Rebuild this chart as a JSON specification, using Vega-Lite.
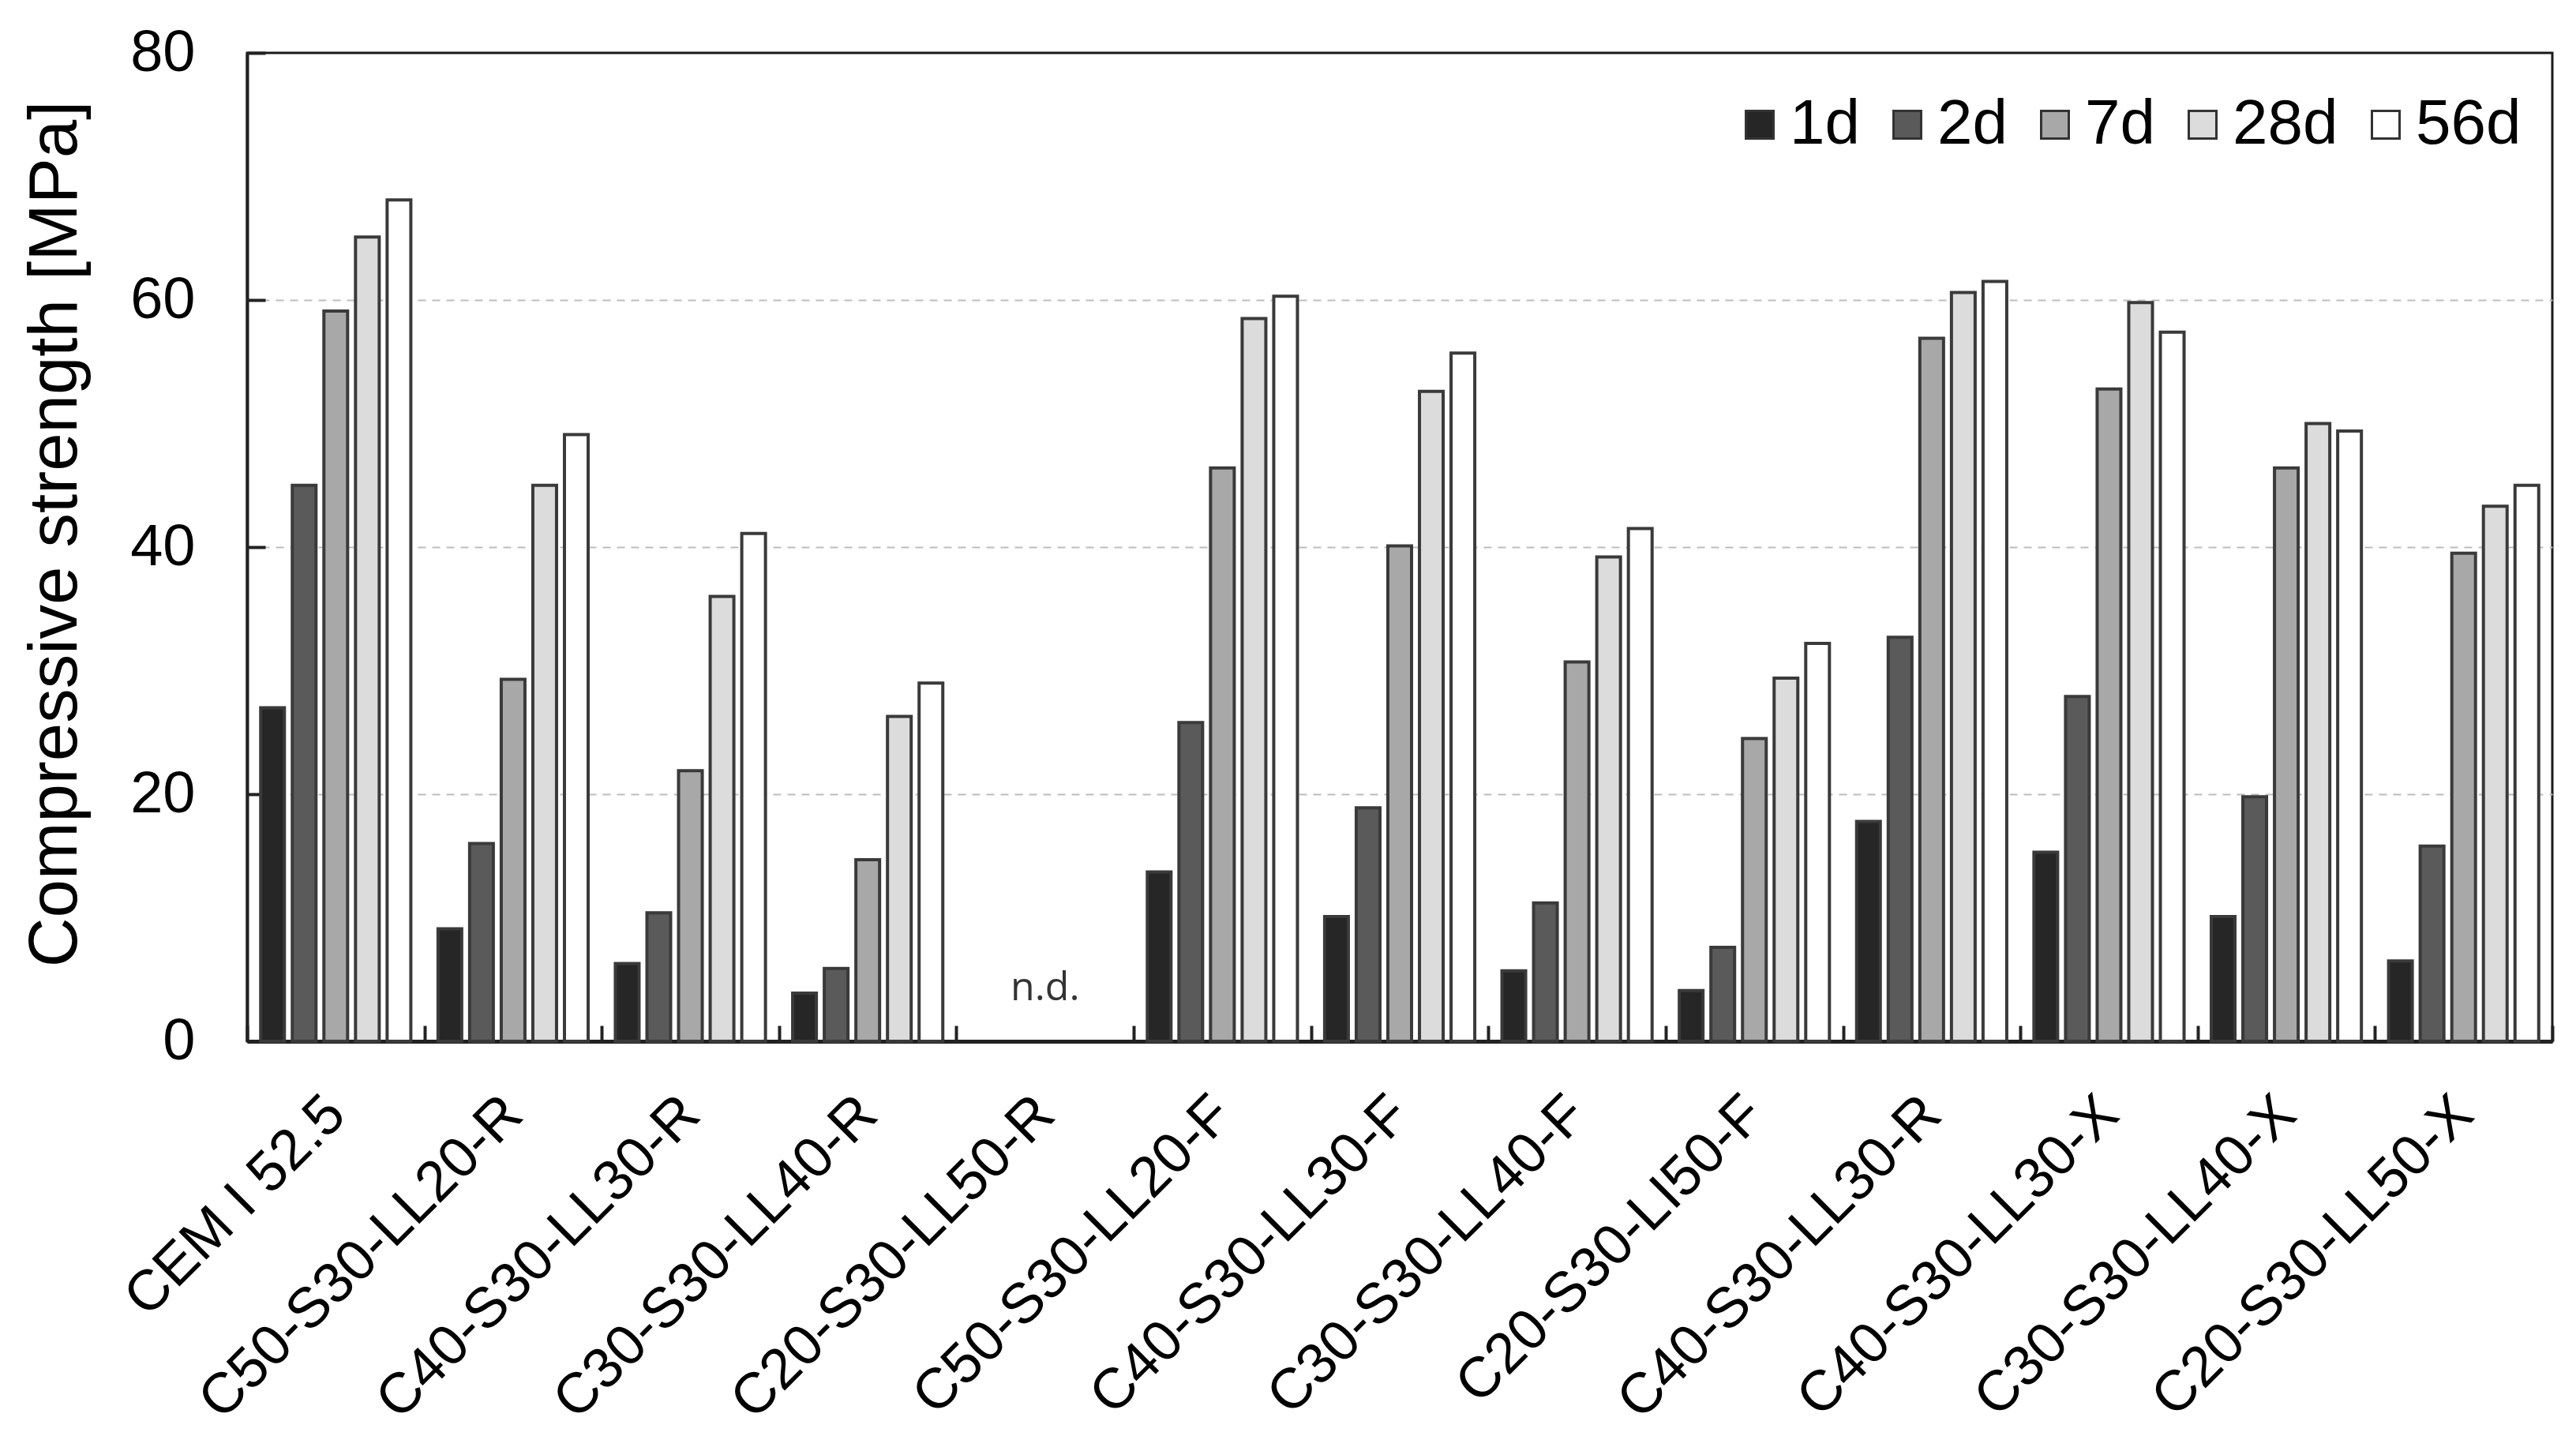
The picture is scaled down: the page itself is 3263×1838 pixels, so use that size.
{
  "$schema": "https://vega.github.io/schema/vega-lite/v6.json",
  "width": 2920,
  "height": 1252,
  "autosize": {"type": "none"},
  "padding": {"left": 313, "top": 67, "right": 30, "bottom": 519},
  "background": "white",
  "config": {
    "font": "Liberation Sans",
    "view": {"stroke": "#1a1a1a", "strokeWidth": 3},
    "axis": {"labelColor": "#000", "titleColor": "#000", "labelFont": "Liberation Sans", "titleFont": "Liberation Sans"}
  },
  "datasets": {
    "bars": [
      {"mix": "CEM I 52.5", "age": "1d", "strength": 27.0},
      {"mix": "CEM I 52.5", "age": "2d", "strength": 45.0},
      {"mix": "CEM I 52.5", "age": "7d", "strength": 59.1},
      {"mix": "CEM I 52.5", "age": "28d", "strength": 65.1},
      {"mix": "CEM I 52.5", "age": "56d", "strength": 68.1},
      {"mix": "C50-S30-LL20-R", "age": "1d", "strength": 9.1},
      {"mix": "C50-S30-LL20-R", "age": "2d", "strength": 16.0},
      {"mix": "C50-S30-LL20-R", "age": "7d", "strength": 29.3},
      {"mix": "C50-S30-LL20-R", "age": "28d", "strength": 45.0},
      {"mix": "C50-S30-LL20-R", "age": "56d", "strength": 49.1},
      {"mix": "C40-S30-LL30-R", "age": "1d", "strength": 6.3},
      {"mix": "C40-S30-LL30-R", "age": "2d", "strength": 10.4},
      {"mix": "C40-S30-LL30-R", "age": "7d", "strength": 21.9},
      {"mix": "C40-S30-LL30-R", "age": "28d", "strength": 36.0},
      {"mix": "C40-S30-LL30-R", "age": "56d", "strength": 41.1},
      {"mix": "C30-S30-LL40-R", "age": "1d", "strength": 3.9},
      {"mix": "C30-S30-LL40-R", "age": "2d", "strength": 5.9},
      {"mix": "C30-S30-LL40-R", "age": "7d", "strength": 14.7},
      {"mix": "C30-S30-LL40-R", "age": "28d", "strength": 26.3},
      {"mix": "C30-S30-LL40-R", "age": "56d", "strength": 29.0},
      {"mix": "C50-S30-LL20-F", "age": "1d", "strength": 13.7},
      {"mix": "C50-S30-LL20-F", "age": "2d", "strength": 25.8},
      {"mix": "C50-S30-LL20-F", "age": "7d", "strength": 46.4},
      {"mix": "C50-S30-LL20-F", "age": "28d", "strength": 58.5},
      {"mix": "C50-S30-LL20-F", "age": "56d", "strength": 60.3},
      {"mix": "C40-S30-LL30-F", "age": "1d", "strength": 10.1},
      {"mix": "C40-S30-LL30-F", "age": "2d", "strength": 18.9},
      {"mix": "C40-S30-LL30-F", "age": "7d", "strength": 40.1},
      {"mix": "C40-S30-LL30-F", "age": "28d", "strength": 52.6},
      {"mix": "C40-S30-LL30-F", "age": "56d", "strength": 55.7},
      {"mix": "C30-S30-LL40-F", "age": "1d", "strength": 5.7},
      {"mix": "C30-S30-LL40-F", "age": "2d", "strength": 11.2},
      {"mix": "C30-S30-LL40-F", "age": "7d", "strength": 30.7},
      {"mix": "C30-S30-LL40-F", "age": "28d", "strength": 39.2},
      {"mix": "C30-S30-LL40-F", "age": "56d", "strength": 41.5},
      {"mix": "C20-S30-LI50-F", "age": "1d", "strength": 4.1},
      {"mix": "C20-S30-LI50-F", "age": "2d", "strength": 7.6},
      {"mix": "C20-S30-LI50-F", "age": "7d", "strength": 24.5},
      {"mix": "C20-S30-LI50-F", "age": "28d", "strength": 29.4},
      {"mix": "C20-S30-LI50-F", "age": "56d", "strength": 32.2},
      {"mix": "C40-S30-LL30-R ", "age": "1d", "strength": 17.8},
      {"mix": "C40-S30-LL30-R ", "age": "2d", "strength": 32.7},
      {"mix": "C40-S30-LL30-R ", "age": "7d", "strength": 56.9},
      {"mix": "C40-S30-LL30-R ", "age": "28d", "strength": 60.6},
      {"mix": "C40-S30-LL30-R ", "age": "56d", "strength": 61.5},
      {"mix": "C40-S30-LL30-X", "age": "1d", "strength": 15.3},
      {"mix": "C40-S30-LL30-X", "age": "2d", "strength": 27.9},
      {"mix": "C40-S30-LL30-X", "age": "7d", "strength": 52.8},
      {"mix": "C40-S30-LL30-X", "age": "28d", "strength": 59.8},
      {"mix": "C40-S30-LL30-X", "age": "56d", "strength": 57.4},
      {"mix": "C30-S30-LL40-X", "age": "1d", "strength": 10.1},
      {"mix": "C30-S30-LL40-X", "age": "2d", "strength": 19.8},
      {"mix": "C30-S30-LL40-X", "age": "7d", "strength": 46.4},
      {"mix": "C30-S30-LL40-X", "age": "28d", "strength": 50.0},
      {"mix": "C30-S30-LL40-X", "age": "56d", "strength": 49.4},
      {"mix": "C20-S30-LL50-X", "age": "1d", "strength": 6.5},
      {"mix": "C20-S30-LL50-X", "age": "2d", "strength": 15.8},
      {"mix": "C20-S30-LL50-X", "age": "7d", "strength": 39.5},
      {"mix": "C20-S30-LL50-X", "age": "28d", "strength": 43.3},
      {"mix": "C20-S30-LL50-X", "age": "56d", "strength": 45.0}
    ],
    "notes": [
      {"mix": "C20-S30-LL50-R", "strength": 4.3, "label": "n.d."}
    ]
  },
  "layer": [
    {
      "data": {"name": "bars"},
      "mark": {"type": "bar", "stroke": "#3a3a3a", "strokeWidth": 4},
      "encoding": {
        "x": {
          "field": "mix",
          "type": "nominal",
          "scale": {
            "domain": ["CEM I 52.5", "C50-S30-LL20-R", "C40-S30-LL30-R", "C30-S30-LL40-R", "C20-S30-LL50-R", "C50-S30-LL20-F", "C40-S30-LL30-F", "C30-S30-LL40-F", "C20-S30-LI50-F", "C40-S30-LL30-R ", "C40-S30-LL30-X", "C30-S30-LL40-X", "C20-S30-LL50-X"],
            "paddingInner": 0,
            "paddingOuter": 0
          },
          "axis": {
            "title": null,
            "labelAngle": -45,
            "labelFontSize": 72,
            "labelPadding": 76,
            "labelOffset": -25,
            "labelLimit": 2000,
            "labelExpr": "trim(datum.label)",
            "tickBand": "extent",
            "tickSize": -20,
            "tickWidth": 4,
            "tickColor": "#222",
            "domainColor": "#222",
            "domainWidth": 5,
            "grid": false
          }
        },
        "xOffset": {
          "field": "age",
          "type": "nominal",
          "sort": ["1d", "2d", "7d", "28d", "56d"],
          "scale": {"paddingInner": 0.25, "paddingOuter": 0.43}
        },
        "y": {
          "field": "strength",
          "type": "quantitative",
          "scale": {"domain": [0, 80]},
          "axis": {
            "title": "Compressive strength [MPa]",
            "titleFontSize": 87,
            "titleFontWeight": "normal",
            "titlePadding": 50,
            "titleY": 609,
            "values": [0, 20, 40, 60, 80],
            "labelFontSize": 74,
            "labelPadding": 89,
            "tickSize": -23,
            "tickWidth": 4,
            "tickColor": "#222",
            "domainColor": "#222",
            "domainWidth": 4,
            "grid": true,
            "gridColor": "#bdbdbd",
            "gridOpacity": {"condition": {"test": "datum.value >= 80 || datum.value <= 0", "value": 0}, "value": 1},
            "gridWidth": 2,
            "gridDash": [10, 8]
          }
        },
        "color": {
          "field": "age",
          "type": "nominal",
          "sort": ["1d", "2d", "7d", "28d", "56d"],
          "scale": {"domain": ["1d", "2d", "7d", "28d", "56d"], "range": ["#262626", "#5a5a5a", "#a8a8a8", "#dcdcdc", "#ffffff"]},
          "legend": {
            "title": null,
            "orient": "none",
            "legendX": 1876,
            "legendY": 51,
            "direction": "horizontal",
            "symbolType": "square",
            "symbolSize": 1225,
            "symbolStrokeColor": "#333",
            "symbolStrokeWidth": 3,
            "symbolOpacity": 1,
            "labelFontSize": 80,
            "labelColor": "#000",
            "labelOffset": -2,
            "columnPadding": 20,
            "padding": 0
          }
        }
      }
    },
    {
      "data": {"name": "notes"},
      "mark": {"type": "text", "font": "Open Sans", "fontSize": 50, "color": "#333", "baseline": "middle", "align": "center"},
      "encoding": {
        "x": {"field": "mix", "type": "nominal"},
        "y": {"field": "strength", "type": "quantitative"},
        "text": {"field": "label"}
      }
    }
  ]
}
